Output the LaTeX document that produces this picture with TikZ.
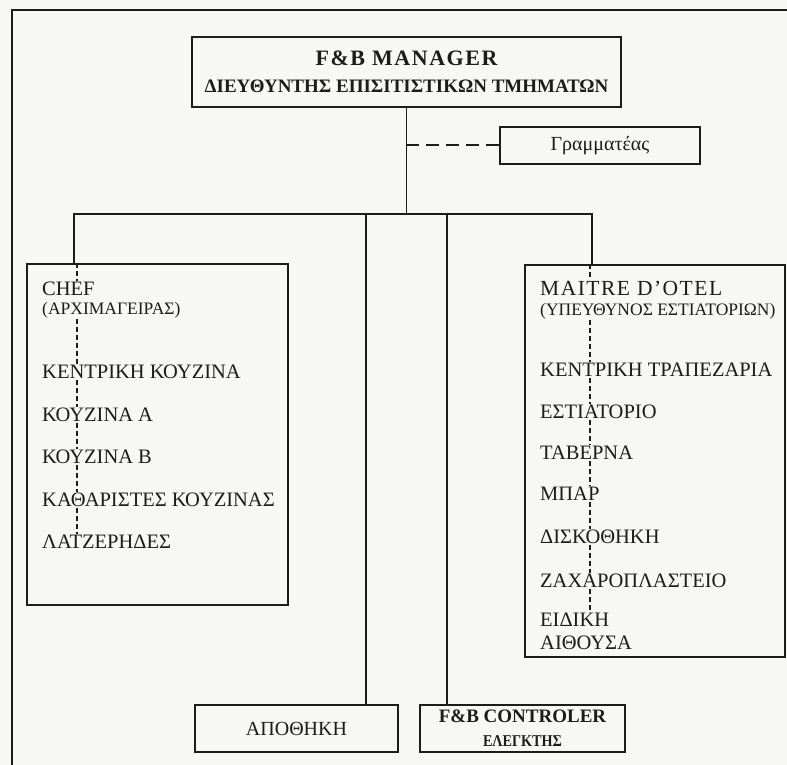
\documentclass[tikz,border=0pt]{standalone}
\usepackage{fontspec}
\setmainfont{Liberation Serif}
\newfontfamily\trackedfont[LetterSpace=7]{Liberation Serif}
\newfontfamily\narrowfont[FakeStretch=0.86]{Liberation Serif}
\definecolor{ink}{RGB}{28,28,28}
\definecolor{paper}{RGB}{247,247,245}
\tikzset{
  box/.style={draw=ink, line width=2pt, inner sep=0pt, text=ink, align=center},
  item/.style={anchor=west, inner sep=1pt, text=ink, font=\fontsize{20.5}{22}\selectfont},
  subitem/.style={item, font=\fontsize{17.5}{19}\selectfont},
  link/.style={draw=ink, line width=1.8pt},
  guide/.style={draw=ink, line width=1.3pt, dash pattern=on 5pt off 3pt},
  aside/.style={draw=ink, line width=2pt, dash pattern=on 13pt off 7pt},
  frame/.style={draw=ink, line width=1.6pt}
}
\begin{document}
\begin{tikzpicture}[x=1pt,y=-1pt]
  % page and its frame
  \fill[paper] (0,0) rectangle (787,765);
  \useasboundingbox (0,0) rectangle (787,765);
  \draw[frame] (787,10) -- (12,10) -- (12,765);

  % head of the department and secretary
  \node[box, minimum width=429pt, minimum height=70pt,
        font=\fontsize{19}{27}\selectfont\bfseries] (mgr) at (406.5,72)
        {{\fontsize{22}{27}\trackedfont\bfseries F\&B MANAGER}\\ΔΙΕΥΘΥΝΤΗΣ ΕΠΙΣΙΤΙΣΤΙΚΩΝ ΤΜΗΜΑΤΩΝ};
  \node[box, minimum width=200pt, minimum height=37pt,
        font=\fontsize{20}{22}\selectfont] (sec) at (600,145.5) {Γραμματέας};

  % kitchen side
  \node[box, minimum width=261pt, minimum height=341pt] (chefbox) at (157.5,434.5) {};
  \node[item] (c1) at (41,289) {CHEF};
  \node[subitem] (c2) at (41,310) {(ΑΡΧΙΜΑΓΕΙΡΑΣ)};
  \node[item] (c3) at (41,372) {ΚΕΝΤΡΙΚΗ ΚΟΥΖΙΝΑ};
  \node[item] (c4) at (41,415) {ΚΟΥΖΙΝΑ Α};
  \node[item] (c5) at (41,457) {ΚΟΥΖΙΝΑ Β};
  \node[item] (c6) at (41,500) {ΚΑΘΑΡΙΣΤΕΣ ΚΟΥΖΙΝΑΣ};
  \node[item] (c7) at (41,542) {ΛΑΤΖΕΡΗΔΕΣ};

  % dining side
  \node[box, minimum width=260pt, minimum height=392pt] (mdbox) at (655,461) {};
  \node[item, font=\fontsize{21.5}{22}\trackedfont] (m1) at (539,288) {MAITRE D’OTEL};
  \node[subitem] (m2) at (539,311) {(ΥΠΕΥΘΥΝΟΣ ΕΣΤΙΑΤΟΡΙΩΝ)};
  \node[item] (m3) at (539,370) {ΚΕΝΤΡΙΚΗ ΤΡΑΠΕΖΑΡΙΑ};
  \node[item] (m4) at (539,412) {ΕΣΤΙΑΤΟΡΙΟ};
  \node[item] (m5) at (539,453) {ΤΑΒΕΡΝΑ};
  \node[item] (m6) at (539,494) {ΜΠΑΡ};
  \node[item] (m7) at (539,537) {ΔΙΣΚΟΘΗΚΗ};
  \node[item] (m8) at (539,581) {ΖΑΧΑΡΟΠΛΑΣΤΕΙΟ};
  \node[item, align=left, font=\fontsize{20.5}{23}\selectfont] (m9) at (539,631.5) {ΕΙΔΙΚΗ\\ΑΙΘΟΥΣΑ};

  % store room and controller
  \node[box, minimum width=203pt, minimum height=47pt,
        font=\fontsize{20}{22}\selectfont] (store) at (296.5,728.5) {ΑΠΟΘΗΚΗ};
  \node[box, minimum width=205pt, minimum height=47pt,
        font=\fontsize{19}{24}\selectfont\bfseries] (ctrl) at (522.5,728.5)
        {F\&B CONTROLER\\{\fontsize{16.5}{16}\narrowfont\bfseries ΕΛΕΓΚΤΗΣ}};

  % drop points on the tops of the boxes
  \coordinate (chefdrop) at ([xshift=48pt]chefbox.north west);
  \coordinate (mddrop) at ([xshift=68pt]mdbox.north west);
  \coordinate (storedrop) at ([xshift=172pt]store.north west);
  \coordinate (ctrldrop) at ([xshift=28pt]ctrl.north west);
  \coordinate (bus) at ([yshift=-106pt]mgr.south);

  % solid lines of authority
  \draw[link] (mgr.south) -- (bus);
  \draw[link] (bus) -| (chefdrop);
  \draw[link] (bus) -| (mddrop);
  \draw[link] (storedrop) -- (storedrop |- bus);
  \draw[link] (ctrldrop) -- (ctrldrop |- bus);

  % secretary (staff relation)
  \draw[aside] (sec.west) -- (sec.west -| mgr.south);

  % dashed spines through the kitchen list
  \coordinate (cs) at ([xshift=51pt]chefbox.north west);
  \draw[guide] (cs) -- (cs |- c1.north);
  \draw[guide] (cs |- c2.south) -- (cs |- c3.north);
  \draw[guide] (cs |- c3.south) -- (cs |- c4.north);
  \draw[guide] (cs |- c4.south) -- (cs |- c5.north);
  \draw[guide] (cs |- c5.south) -- (cs |- c6.north);
  \draw[guide] (cs |- c6.south) -- (cs |- c7.north);

  % dashed spine through the dining list
  \coordinate (ms) at ([xshift=66pt]mdbox.north west);
  \draw[guide] (ms) -- (ms |- m1.north);
  \draw[guide] (ms |- m2.south) -- (ms |- m3.north);
  \draw[guide] (ms |- m3.south) -- (ms |- m4.north);
  \draw[guide] (ms |- m4.south) -- (ms |- m5.north);
  \draw[guide] (ms |- m5.south) -- (ms |- m6.north);
  \draw[guide] (ms |- m6.south) -- (ms |- m7.north);
  \draw[guide] (ms |- m7.south) -- (ms |- m8.north);
  \draw[guide] (ms |- m8.south) -- (ms |- m9.north);
\end{tikzpicture}
\end{document}
